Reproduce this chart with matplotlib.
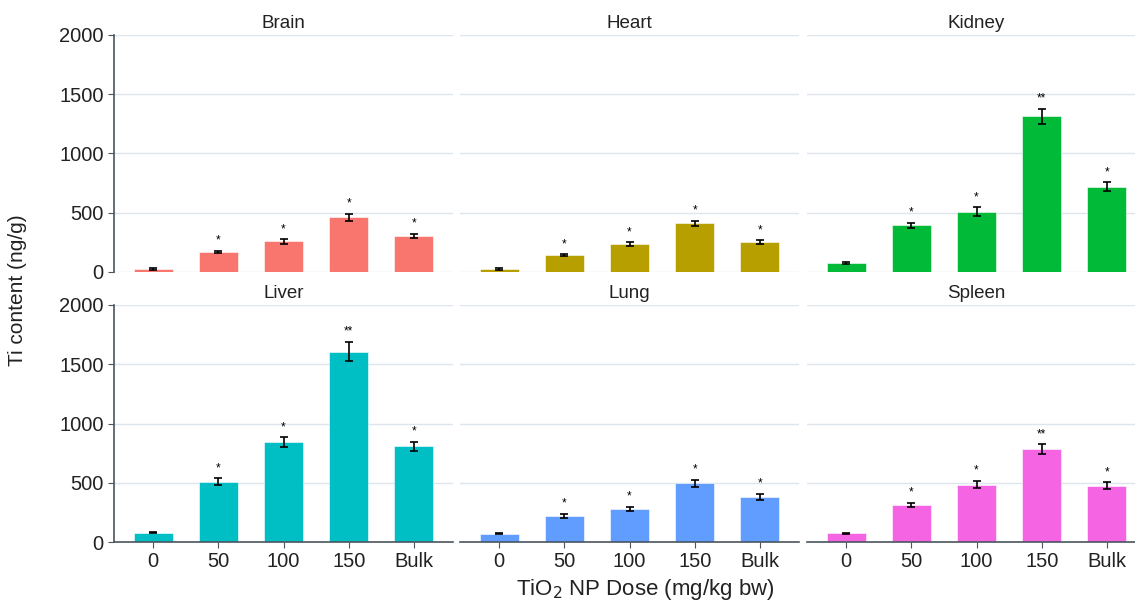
import matplotlib
matplotlib.use("Agg")
import matplotlib.pyplot as plt
import numpy as np

plt.rcParams['font.family'] = ['Liberation Sans', 'DejaVu Sans']

doses = ["0", "50", "100", "150", "Bulk"]
organs = ["Brain", "Heart", "Kidney", "Liver", "Lung", "Spleen"]
colors = ["#F8766D", "#B79F00", "#00BA38", "#00BFC4", "#619CFF", "#F564E3"]

brain = [25, 168, 258, 463, 306]
heart = [25, 140, 233, 410, 252]
kidney = [76, 393, 510, 1313, 721]
liver = [80, 510, 845, 1607, 808]
lung = [70, 219, 280, 494, 381]
spleen = [73, 311, 485, 785, 474]

brain_err = [5, 10, 18, 30, 18]
heart_err = [5, 8, 16, 24, 16]
kidney_err = [5, 22, 35, 62, 36]
liver_err = [6, 28, 40, 80, 37]
lung_err = [5, 17, 17, 30, 27]
spleen_err = [5, 18, 30, 40, 30]

brain_sig = ["", "*", "*", "*", "*"]
heart_sig = ["", "*", "*", "*", "*"]
kidney_sig = ["", "*", "*", "**", "*"]
liver_sig = ["", "*", "*", "**", "*"]
lung_sig = ["", "*", "*", "*", "*"]
spleen_sig = ["", "*", "*", "**", "*"]

values = [brain, heart, kidney, liver, lung, spleen]
errors = [brain_err, heart_err, kidney_err, liver_err, lung_err, spleen_err]
sigs = [brain_sig, heart_sig, kidney_sig, liver_sig, lung_sig, spleen_sig]

W, H = 1135, 603
fig = plt.figure(figsize=(W / 100, H / 100), dpi=100)

lefts = [114, 460, 807]
tops = [35, 305]
pw, ph = 339, 237

axis_col = "#4a5560"
grid_col = "#dfe5ec"

x = np.arange(1, 6)
for i in range(6):
    r, c = divmod(i, 3)
    ax = fig.add_axes([lefts[c] / W, 1 - (tops[r] + ph) / H, pw / W, ph / H])
    ax.bar(x, values[i], width=0.6, color=colors[i], edgecolor="white", linewidth=0.4, zorder=2)
    ax.errorbar(x, values[i], yerr=errors[i], fmt="none", ecolor="black",
                elinewidth=1.2, capsize=3, capthick=1.2, zorder=3)
    for xi, v, e, s in zip(x, values[i], errors[i], sigs[i]):
        if s:
            ax.annotate(s, (xi, v + e), xytext=(0, 3), textcoords="offset points",
                        ha="center", va="bottom", fontsize=8.5)
    ax.set_xlim(0.4, 5.6)
    ax.set_ylim(0, 2000)
    ax.set_yticks([0, 500, 1000, 1500, 2000])
    ax.grid(axis="y", color=grid_col, linewidth=1, zorder=0)
    ax.set_axisbelow(True)
    for sp in ["top", "right"]:
        ax.spines[sp].set_visible(False)
    ax.set_title(organs[i], fontsize=13.5, color="#222222", pad=5)
    if c == 0:
        ax.spines["left"].set_color(axis_col)
        ax.spines["left"].set_linewidth(1.2)
        ax.tick_params(axis="y", labelsize=14.5, colors=axis_col, labelcolor="#222222", length=4)
    else:
        ax.spines["left"].set_visible(False)
        ax.tick_params(axis="y", left=False, labelleft=False)
    if r == 1:
        ax.spines["bottom"].set_color(axis_col)
        ax.spines["bottom"].set_linewidth(1.2)
        ax.set_xticks(x)
        ax.set_xticklabels(doses)
        ax.tick_params(axis="x", labelsize=14.5, colors=axis_col, labelcolor="#222222", length=4)
    else:
        ax.spines["bottom"].set_visible(False)
        ax.set_xticks([])

fig.text(18 / W, 1 - 290 / H, "Ti content (ng/g)", rotation=90, ha="center", va="center",
         fontsize=15, color="#222222")
fig.text(645 / W, 1 - 590 / H, "TiO$_2$ NP Dose (mg/kg bw)", ha="center", va="center",
         fontsize=16, color="#222222")

fig.savefig("out.png", dpi=100)
